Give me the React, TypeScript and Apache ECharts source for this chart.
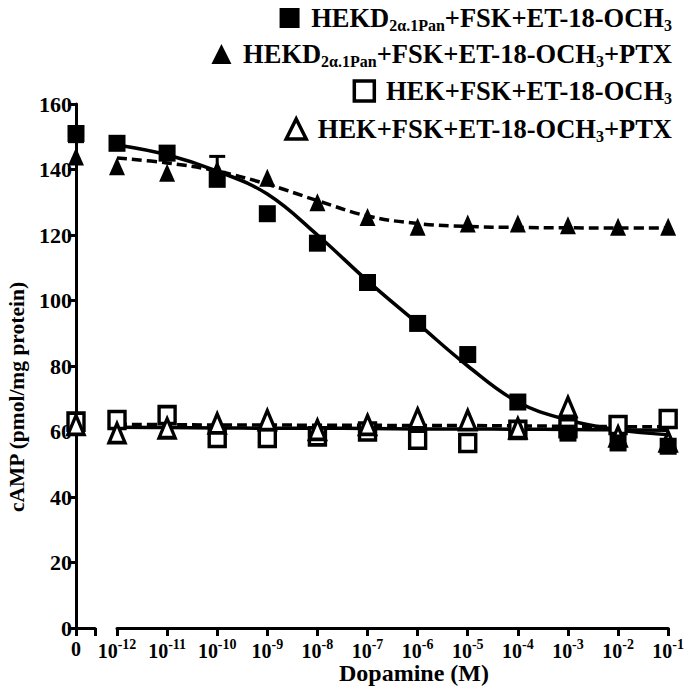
import React, { useEffect, useRef } from "react";
import * as echarts from "echarts";

const FONT = "Liberation Serif";

// Dopamine concentrations (M) on the log segment of the x axis
const doses = [1e-12, 1e-11, 1e-10, 1e-9, 1e-8, 1e-7, 1e-6, 1e-5, 1e-4, 1e-3, 1e-2, 1e-1];

// Series names
const nameHekdFsk = "HEKD2α.1Pan+FSK+ET-18-OCH3";
const nameHekdFskPtx = "HEKD2α.1Pan+FSK+ET-18-OCH3+PTX";
const nameHekFsk = "HEK+FSK+ET-18-OCH3";
const nameHekFskPtx = "HEK+FSK+ET-18-OCH3+PTX";

// cAMP (pmol/mg protein) without dopamine
const zeroHekdFsk = 151;
const zeroHekdFskPtx = 144;
const zeroHekFsk = 63;
const zeroHekFskPtx = 62;

// cAMP means at each dopamine concentration
const hekdFsk = [148, 145, 137, 126.5, 117.5, 105.5, 93, 83.5, 69, 59.5, 56.5, 55.5];
const hekdFskPtx = [141, 139, 140, 137.5, 130, 125.5, 122.5, 123.5, 123.5, 123, 122.5, 122.5];
const hekFsk = [63.5, 65, 58, 58, 58.5, 60, 57.5, 56.5, 60.5, 61, 62, 63.8];
const hekFskPtx = [59.5, 61, 62.5, 63.5, 60.5, 62, 64, 63.5, 61, 67.5, 58.5, 57];

// Fitted dose-response curves, sampled at each decade
const fitHekdFsk = [147.5, 144.5, 139.5, 132.5, 120, 106, 93, 80, 69, 63.5, 60.5, 59];
const fitHekdFskPtx = [143.5, 142, 139.5, 135.5, 130.5, 125.8, 123.5, 122.6, 122.3, 122.2, 122.1, 122.1];
const fitHekFsk = [61.3, 61.2, 61.1, 61.0, 61.0, 60.9, 60.8, 60.8, 60.7, 60.6, 60.5, 60.4];
const fitHekFskPtx = [62.2, 62.1, 62.0, 62.0, 61.9, 61.9, 61.8, 61.8, 61.7, 61.6, 61.5, 61.4];

// Error bars: [dose, mean, bar end]
const errZero = [[0, 151, 148.5]];
const errDose = [[1e-10, 137, 144]];

// Y axis ticks
const yMin = 0;
const yMax = 160;
const yStep = 20;

const black = "#000";

const richBase = { fontFamily: FONT, fontWeight: "bold" as const, color: black };

function legendLabel(name: string): string {
  const map: Record<string, string> = {
    [nameHekdFsk]: " HEKD{sub|2α.1Pan}+FSK+ET-18-OCH{sub|3}",
    [nameHekdFskPtx]: " HEKD{sub|2α.1Pan}+FSK+ET-18-OCH{sub|3}+PTX",
    [nameHekFsk]: " HEK+FSK+ET-18-OCH{sub|3}",
    [nameHekFskPtx]: " HEK+FSK+ET-18-OCH{sub|3}+PTX",
  };
  return map[name] ?? name;
}

function makeLegend(name: string, top: number, icon: string, filled: boolean) {
  return {
    data: [name],
    right: 15,
    top,
    padding: 0,
    icon,
    itemWidth: 20,
    itemHeight: 20,
    itemStyle: filled
      ? { color: black, borderWidth: 0 }
      : { color: "#fff", borderColor: black, borderWidth: 3.5 },
    selectedMode: false,
    formatter: legendLabel,
    textStyle: {
      ...richBase,
      fontSize: 26.5,
      lineHeight: 30,
      rich: {
        sub: { ...richBase, fontSize: 16, lineHeight: 13, verticalAlign: "bottom" },
      },
    },
  };
}

function errorBarSeries(xIdx: number, data: number[][]) {
  return {
    type: "custom",
    xAxisIndex: xIdx,
    yAxisIndex: xIdx,
    z: 2,
    clip: false,
    silent: true,
    encode: { x: 0, y: [1, 2] },
    data,
    renderItem: (_params: any, api: any) => {
      const p1 = api.coord([api.value(0), api.value(1)]);
      const p2 = api.coord([api.value(0), api.value(2)]);
      const st = { stroke: black, lineWidth: 3 };
      return {
        type: "group",
        children: [
          { type: "line", shape: { x1: p1[0], y1: p1[1], x2: p2[0], y2: p2[1] }, style: st },
          { type: "line", shape: { x1: p2[0] - 8, y1: p2[1], x2: p2[0] + 8, y2: p2[1] }, style: st },
        ],
      };
    },
  };
}

function scatter(
  name: string,
  xIdx: number,
  data: number[][],
  symbol: string,
  size: number[],
  filled: boolean,
  z: number
) {
  return {
    type: "scatter",
    name,
    xAxisIndex: xIdx,
    yAxisIndex: xIdx,
    data,
    symbol,
    symbolSize: size,
    clip: false,
    z,
    itemStyle: filled
      ? { color: black, borderWidth: 0, opacity: 1 }
      : { color: "#fff", borderColor: black, borderWidth: 3.5, opacity: 1 },
  };
}

function fitLine(values: number[], dashed: boolean) {
  return {
    type: "line",
    xAxisIndex: 1,
    yAxisIndex: 1,
    data: values.map((v, i) => [doses[i], v]),
    smooth: 0.4,
    showSymbol: false,
    symbol: "none",
    clip: false,
    silent: true,
    z: 1,
    lineStyle: dashed
      ? { color: black, width: 3.5, type: [10, 5] as any }
      : { color: black, width: 3.5, type: "solid" },
  };
}

const axisLineStyle = { lineStyle: { color: black, width: 3 } };
const axisTickStyle = { show: true, inside: false, length: 8, lineStyle: { color: black, width: 3 } };

export default function App() {
  const ref = useRef<HTMLDivElement>(null);

  useEffect(() => {
    if (!ref.current) return;
    const chart = echarts.init(ref.current, null, { renderer: "svg" });
    const toPairs = (vals: number[]) => vals.map((v, i) => [doses[i], v]);

    const option: any = {
      animation: false,
      backgroundColor: "#fff",
      textStyle: { fontFamily: FONT },
      grid: [
        { left: 76, width: 19, top: 104, height: 524 },
        { left: 117, right: 11, top: 104, height: 524 },
      ],
      xAxis: [
        {
          gridIndex: 0,
          type: "value",
          min: 0,
          max: 1,
          interval: 1,
          axisLine: axisLineStyle,
          axisTick: axisTickStyle,
          splitLine: { show: false },
          axisLabel: {
            ...richBase,
            fontSize: 20,
            margin: 11,
            formatter: (v: number) => (v === 0 ? "0" : ""),
          },
        },
        {
          gridIndex: 1,
          type: "log",
          logBase: 10,
          min: 1e-12,
          max: 1e-1,
          interval: 1,
          axisLine: axisLineStyle,
          axisTick: axisTickStyle,
          minorTick: { show: false },
          splitLine: { show: false },
          axisLabel: {
            margin: 9,
            showMinLabel: true,
            showMaxLabel: true,
            hideOverlap: false,
            formatter: (v: number) => "{b|10}{s|" + Math.round(Math.log10(v)) + "}",
            rich: {
              b: { ...richBase, fontSize: 20, lineHeight: 24, verticalAlign: "bottom" },
              s: { ...richBase, fontSize: 14, lineHeight: 13, verticalAlign: "top" },
            },
          },
        },
      ],
      yAxis: [
        {
          gridIndex: 0,
          type: "value",
          min: yMin,
          max: yMax,
          interval: yStep,
          axisLine: { show: true, ...axisLineStyle },
          axisTick: axisTickStyle,
          splitLine: { show: false },
          axisLabel: { ...richBase, fontSize: 22, margin: 4 },
        },
        {
          gridIndex: 1,
          type: "value",
          min: yMin,
          max: yMax,
          interval: yStep,
          show: false,
          splitLine: { show: false },
        },
      ],
      legend: [
        makeLegend(nameHekdFsk, 3, "rect", true),
        makeLegend(nameHekdFskPtx, 39, "triangle", true),
        makeLegend(nameHekFsk, 76, "rect", false),
        makeLegend(nameHekFskPtx, 114, "triangle", false),
      ],
      graphic: [
        {
          type: "text",
          x: 17,
          y: 397,
          rotation: Math.PI / 2,
          style: {
            text: "cAMP (pmol/mg protein)",
            fontFamily: FONT,
            fontWeight: "bold",
            fill: black,
            fontSize: 21.5,
            align: "center",
            verticalAlign: "middle",
          },
        },
        {
          type: "text",
          x: 414,
          y: 673,
          style: {
            text: "Dopamine (M)",
            fontFamily: FONT,
            fontWeight: "bold",
            fill: black,
            fontSize: 24,
            align: "center",
            verticalAlign: "middle",
          },
        },
      ],
      series: [
        fitLine(fitHekdFsk, false),
        fitLine(fitHekdFskPtx, true),
        fitLine(fitHekFsk, false),
        fitLine(fitHekFskPtx, true),
        errorBarSeries(0, errZero),
        errorBarSeries(1, errDose),
        scatter(nameHekFsk, 0, [[0, zeroHekFsk]], "rect", [16, 17], false, 3),
        scatter(nameHekFsk, 1, toPairs(hekFsk), "rect", [16, 17], false, 3),
        scatter(nameHekFskPtx, 0, [[0, zeroHekFskPtx]], "triangle", [16, 19], false, 4),
        scatter(nameHekFskPtx, 1, toPairs(hekFskPtx), "triangle", [16, 19], false, 4),
        scatter(nameHekdFsk, 0, [[0, zeroHekdFsk]], "rect", [17, 17], true, 5),
        scatter(nameHekdFsk, 1, toPairs(hekdFsk), "rect", [17, 17], true, 5),
        scatter(nameHekdFskPtx, 0, [[0, zeroHekdFskPtx]], "triangle", [16, 18], true, 6),
        scatter(nameHekdFskPtx, 1, toPairs(hekdFskPtx), "triangle", [16, 18], true, 6),
      ],
    };

    chart.setOption(option);
    return () => chart.dispose();
  }, []);

  return (
    <div
      ref={ref}
      style={{ position: "absolute", left: 0, top: 0, width: 687, height: 689, background: "#fff" }}
    />
  );
}
